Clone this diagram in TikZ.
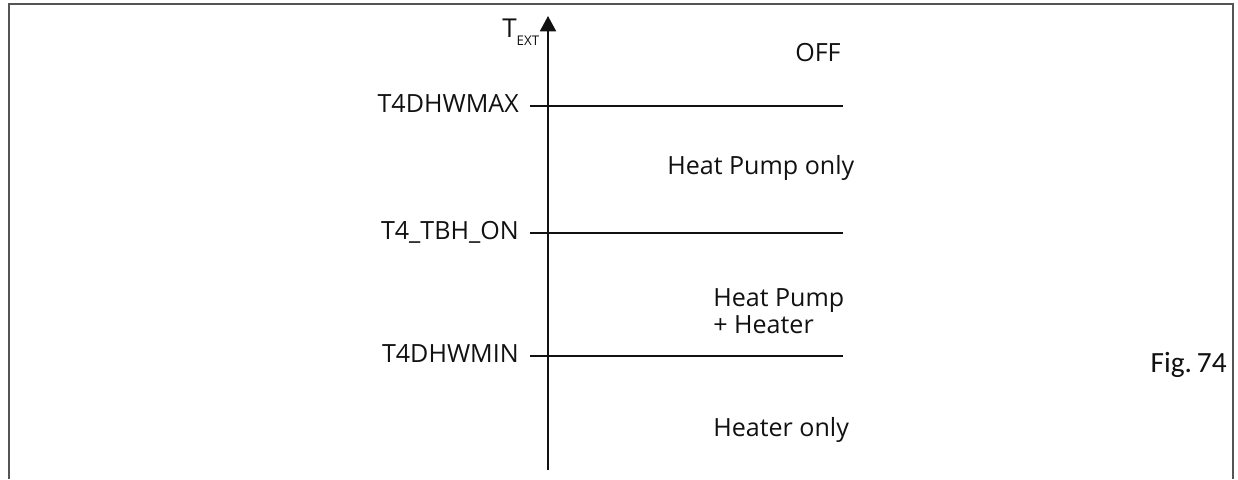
\documentclass[tikz,border=0pt]{standalone}
\usepackage{fontspec}
\setmainfont{Open Sans}
\newfontfamily\figfont{Carlito}
\usetikzlibrary{arrows.meta,positioning}
\definecolor{tinta}{HTML}{111111}
\definecolor{marco}{HTML}{555555}

\tikzset{
  lbl/.style={font=\fontsize{18.8}{21}\selectfont,text=tinta,inner sep=0pt},
  umbral/.style={tinta,line width=1.1pt}
}

\begin{document}
\begin{tikzpicture}[x=0.75pt,y=-0.75pt,>=Latex,line cap=butt]
        \useasboundingbox (0,0) rectangle (1238,479);
        % marco
        \draw[marco,line width=1.6pt] (9,479) -- (9,4) -- (1233,4) -- (1233,479);
        % eje
        \coordinate (axbot) at (548,470);
        \coordinate (axtop) at (548,16);
        \draw[-{Triangle[length=11.5pt,width=12pt]},tinta,line width=1.4pt] (axbot) -- (axtop);
        \node[anchor=base west,inner sep=0pt,text=tinta,font=\fontsize{19.5}{21}\selectfont] (text) at (502,37)
              {T\raisebox{-6.5pt}{\fontsize{10}{11}\selectfont EXT}};
        % umbrales
        \foreach \nm/\y/\txt in {max/106/T4DHWMAX, tbh/233/T4\_TBH\_ON, min/356/T4DHWMIN}{
          \node[lbl,anchor=base east] (\nm) at (519,\y+6) {\txt};
          \coordinate (\nm s) at (530,\y);
          \coordinate (\nm e) at (843,\y);
          \draw[umbral] (\nm s) -- (\nm e);
        }
        % zonas
        \node[lbl,anchor=base west] (off) at (795,61) {OFF};
        \node[lbl,anchor=base west] (hponly) at (667,174) {Heat Pump only};
        \node[lbl,anchor=base west] (hpa) at (713,306) {Heat Pump};
        \node[lbl,anchor=base west] (hpb) at (713,333) {+ Heater};
        \node[lbl,anchor=base west] (heater) at (713,436) {Heater only};
        \node[anchor=base east,inner sep=0pt,text=tinta,font=\figfont\fontsize{22}{24}\selectfont] (fig) at (1227,372) {Fig.\,74};
      \end{tikzpicture}
\end{document}
